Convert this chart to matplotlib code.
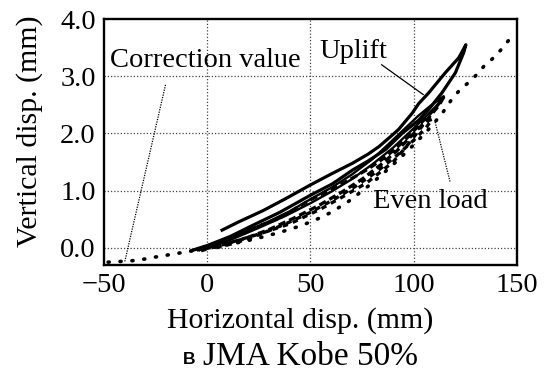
import matplotlib
matplotlib.use("Agg")
import matplotlib.pyplot as plt

plt.rcParams['font.family'] = ['Liberation Serif', 'DejaVu Serif']

# correction value curve (dotted)
corr_x = [-48, -43, -39, -34, -29.5, -25, -20, -15, -10, -5, 0, 6, 12, 20, 28, 36,
          44, 52, 60, 68, 76, 84, 92, 100, 108, 114, 118.5, 122.6, 126.6, 130.6,
          134.4, 138, 142, 145.6, 149.2]
corr_y = [-0.25, -0.24, -0.23, -0.22, -0.19, -0.16, -0.13, -0.10, -0.07, -0.04,
          -0.01, 0.03, 0.07, 0.13, 0.20, 0.28, 0.37, 0.48, 0.62, 0.80, 1.02, 1.26,
          1.52, 1.80, 2.10, 2.36, 2.60, 2.77, 2.89, 3.03, 3.19, 3.30, 3.45, 3.61, 3.76]

# uplift, outer loop
up1_x = [7.2, 15, 27, 38, 50, 60, 70.4, 78, 83.2, 89.6, 92.7, 99.2, 102.4, 107.3,
         115.3, 121.8, 125.3, 124.2, 120.2, 113.7, 107.3, 102.4, 94.4, 86.4, 78,
         70.4, 60.7, 50, 35.1, 22.4, 11.2, 0, -7]
up1_y = [0.31, 0.45, 0.65, 0.86, 1.10, 1.29, 1.48, 1.64, 1.77, 1.97, 2.07, 2.35,
         2.52, 2.71, 3.06, 3.32, 3.55, 3.41, 3.06, 2.71, 2.42, 2.23, 2.00, 1.72,
         1.52, 1.36, 1.12, 0.92, 0.62, 0.40, 0.20, 0.04, -0.04]

# uplift, inner loop
up2_x = [-6, 5, 15, 28, 40, 50, 60, 70, 80, 88, 95, 102, 108, 114.5, 112, 106,
         98, 90, 80, 70, 60, 50, 38, 25, 12, 0, -8]
up2_y = [-0.03, 0.10, 0.24, 0.43, 0.64, 0.85, 1.05, 1.28, 1.55, 1.82, 2.06, 2.30,
         2.48, 2.65, 2.52, 2.30, 2.02, 1.75, 1.46, 1.20, 0.98, 0.78, 0.56, 0.35,
         0.15, 0.00, -0.05]

# even load loops (dashed)
ev1_x = [-5, 0, 6, 15, 25, 35, 50, 60, 70.4, 78, 86.4, 92, 97.6, 104, 110, 114.5,
         112, 106, 99, 92, 84, 75, 65, 54, 42, 30, 18, 6, -4]
ev1_y = [-0.04, 0.00, 0.10, 0.22, 0.38, 0.52, 0.84, 1.02, 1.22, 1.38, 1.59, 1.76,
         1.95, 2.20, 2.42, 2.63, 2.48, 2.22, 1.96, 1.70, 1.45, 1.20, 0.97, 0.74,
         0.52, 0.32, 0.16, 0.04, -0.04]

ev2_x = [-3, 10, 25, 40, 55, 65, 77, 90, 96, 101, 105.6, 109, 106, 100, 92, 82,
         72, 62, 50, 38, 26, 14, 2]
ev2_y = [-0.05, 0.08, 0.24, 0.42, 0.68, 0.88, 1.13, 1.50, 1.75, 1.98, 2.20, 2.25,
         2.10, 1.88, 1.62, 1.33, 1.08, 0.86, 0.62, 0.42, 0.24, 0.09, -0.02]

xticks = [-50, 0, 50, 100, 150]
yticks = [0.0, 1.0, 2.0, 3.0, 4.0]

fig = plt.figure(figsize=(5.52, 3.75), dpi=100)
ax = fig.add_axes([0.1884, 0.2933, 0.748, 0.656])

ax.set_xlim(-50, 150)
ax.set_ylim(-0.3, 4.0)
ax.set_xticks(xticks)
ax.set_yticks(yticks)
ax.set_xticklabels(['\u221250', '0', '50', '100', '150'])
ax.set_yticklabels(['%.1f' % v for v in yticks])
ax.tick_params(length=0, labelsize=20.5, pad=6)

for v in [0, 50, 100]:
    ax.axvline(v, color='#444444', lw=0.9, ls=(0, (1, 1.6)), zorder=1)
for v in [0, 1, 2, 3]:
    ax.axhline(v, color='#444444', lw=0.9, ls=(0, (1, 1.6)), zorder=1)

for s in ax.spines.values():
    s.set_linewidth(1.7)

ax.plot(corr_x, corr_y, color='black', lw=2.6, ls=(0, (0.3, 3.0)),
        dash_capstyle='round', zorder=3)
ax.plot(up1_x, up1_y, color='black', lw=2.3, zorder=4)
ax.plot(up2_x, up2_y, color='black', lw=1.7, zorder=4)
ax.plot(ev1_x, ev1_y, color='black', lw=2.4, ls=(0, (2.2, 1.2)), zorder=3)
ax.plot(ev2_x, ev2_y, color='black', lw=2.4, ls=(0, (1.6, 1.6)), zorder=3)

# labels with leader lines
ax.text(-47.1, 3.28, 'Correction value', fontsize=20.5, ha='left', va='center')
ax.plot([-20.2, -40], [2.85, -0.25], color='black', lw=0.9, ls=(0, (1, 1)))
ax.text(54.1, 3.43, 'Uplift', fontsize=20.5, ha='left', va='center')
ax.plot([84.5, 104.6], [3.2, 2.68], color='black', lw=0.9)
ax.text(80.4, 0.81, 'Even load', fontsize=20.5, ha='left', va='center')
ax.plot([117.6, 110.3], [1.16, 2.21], color='black', lw=0.9, ls=(0, (1, 1)))

fig.text(0.5435, 0.125, 'Horizontal disp. (mm)', fontsize=21.5,
         ha='center', va='baseline')
fig.text(0.054, 0.649, 'Vertical disp. (mm)', fontsize=21.5, rotation=90,
         ha='center', va='center')
fig.text(0.3315, 0.03, 'B', fontsize=12.5, family='Liberation Sans',
         weight='bold', ha='left', va='baseline')
fig.text(0.3678, 0.026, 'JMA Kobe 50%', fontsize=24, ha='left', va='baseline')

fig.savefig('out.png', dpi=100)
